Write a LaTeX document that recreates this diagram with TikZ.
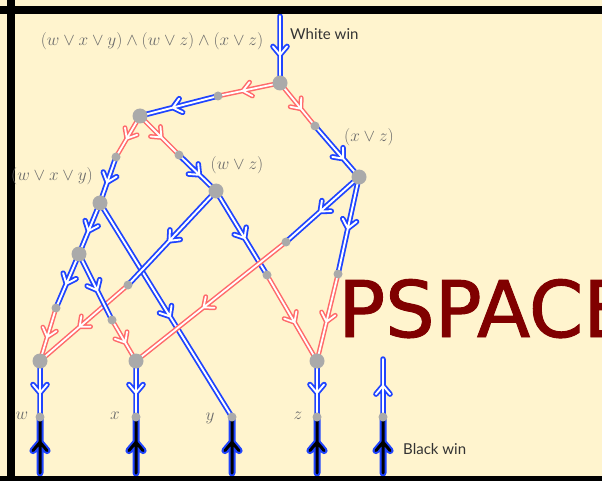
\documentclass[tikz,border=0pt]{standalone}
\usepackage{fontspec}
\usetikzlibrary{calc}
\newfontfamily\labelfont{Lato}
\newfontfamily\bigfont[FakeBold=1.2]{DejaVu Sans}
\definecolor{bgc}{HTML}{FFF4CE}
\definecolor{eblue}{HTML}{1F44FF}
\definecolor{ered}{HTML}{FF6A6A}
\definecolor{ngray}{HTML}{AAAAAA}
\definecolor{tgray}{HTML}{6A6A6A}
\definecolor{pred}{HTML}{800000}
\pgfdeclarelayer{bg}
\pgfdeclarelayer{edges}
\pgfsetlayers{bg,edges,main}
\tikzset{
  bluee/.style={draw=eblue, double=white, line width=1.8pt, double distance=1.9pt, line cap=round, line join=round},
  rede/.style={draw=ered, double=white, line width=1.5pt, double distance=1.8pt, line cap=round, line join=round},
  blacke/.style={draw=eblue, double=black, line width=2pt, double distance=3pt, line cap=round, line join=round},
  bignode/.style={circle, fill=ngray, inner sep=0pt, minimum size=15pt},
  smallnode/.style={circle, fill=ngray, inner sep=0pt, minimum size=9pt},
  formula/.style={text=tgray, font=\fontsize{16.4}{18}\selectfont, inner sep=0pt},
  leaflabel/.style={text=tgray, font=\fontsize{17}{19}\selectfont, inner sep=0pt},
  wintext/.style={text=black!80, font=\labelfont\fontsize{15}{17}\selectfont, inner sep=0pt, anchor=west},
  frame/.style={draw=black, line width=8pt}
}
\newcommand\edg[4][0.56]{%
  \path ($(#3.center)!#1!(#4.center)$) coordinate (tip);
  \draw[#2] (#3.center) -- (#4.center)
    ($(tip)!11pt!40:(#3.center)$) -- (tip) -- ($(tip)!11pt!-40:(#3.center)$);
}
\begin{document}
\begin{tikzpicture}[x=1pt, y=-1pt]
\useasboundingbox (0,0) rectangle (602,481);
\begin{pgfonlayer}{bg}
  \fill[bgc] (0,0) rectangle (602,481);
\end{pgfonlayer}
% nodes
\node[bignode] (R) at (280,83) {};
\node[smallnode] (s1) at (218,96) {};
\node[bignode] (A) at (140,116) {};
\node[smallnode] (s2) at (315,126) {};
\node[smallnode] (s3) at (116,157) {};
\node[smallnode] (s4) at (179,155) {};
\node[bignode] (B) at (100,203) {};
\node[bignode] (C) at (216,191) {};
\node[bignode] (D) at (359,177) {};
\node[bignode] (E) at (79,254) {};
\node[smallnode] (s5) at (128,285) {};
\node[smallnode] (s6) at (286,242) {};
\node[smallnode] (s7) at (56,308) {};
\node[smallnode] (s8) at (112,320) {};
\node[smallnode] (s9) at (267,275) {};
\node[smallnode] (s10) at (338,274) {};
\node[bignode] (F) at (40,361) {};
\node[bignode] (G) at (136,361) {};
\node[bignode] (H) at (317,361) {};
\node[smallnode] (lw) at (40,417) {};
\node[smallnode] (lx) at (136,417) {};
\node[smallnode] (ly) at (232,417) {};
\node[smallnode] (lz) at (317,417) {};
\node[smallnode] (lk) at (383,417) {};
\coordinate (wstart) at (280,16);
\coordinate (bw) at (40,473);
\coordinate (bx) at (136,473);
\coordinate (by) at (232,473);
\coordinate (bz) at (317,473);
\coordinate (bk) at (383,473);
\coordinate (kt) at (383,359);
% edges
\begin{pgfonlayer}{edges}
  \edg[0.58]{bluee}{wstart}{R}
  \edg[0.6]{rede}{R}{s1}
  \edg[0.58]{bluee}{s1}{A}
  \edg[0.6]{rede}{R}{s2}
  \edg[0.64]{bluee}{s2}{D}
  \edg[0.55]{rede}{A}{s3}
  \edg[0.55]{bluee}{s3}{B}
  \edg[0.55]{rede}{A}{s4}
  \edg[0.55]{bluee}{s4}{C}
  \edg[0.55]{bluee}{B}{E}
  \edg[0.53]{bluee}{B}{ly}
  \edg[0.53]{bluee}{C}{s5}
  \edg[0.55]{rede}{s5}{F}
  \edg[0.56]{bluee}{C}{s9}
  \edg[0.55]{rede}{s9}{H}
  \edg[0.53]{bluee}{D}{s6}
  \edg[0.55]{rede}{s6}{G}
  \edg[0.53]{bluee}{D}{s10}
  \edg[0.55]{rede}{s10}{H}
  \edg[0.55]{bluee}{E}{s7}
  \edg[0.55]{rede}{s7}{F}
  \edg[0.55]{bluee}{E}{s8}
  \edg[0.55]{rede}{s8}{G}
  \edg[0.57]{bluee}{F}{lw}
  \edg[0.57]{bluee}{G}{lx}
  \edg[0.57]{bluee}{H}{lz}
  \edg[0.55]{blacke}{bw}{lw}
  \edg[0.55]{blacke}{bx}{lx}
  \edg[0.55]{blacke}{by}{ly}
  \edg[0.55]{blacke}{bz}{lz}
  \edg[0.55]{blacke}{bk}{lk}
  \edg[0.54]{bluee}{lk}{kt}
\end{pgfonlayer}
% frame
\fill[bgc] (0,0) rectangle (602,6);
\draw[frame] (0,10) -- (602,10);
\draw[frame] (11,0) -- (11,481);
\draw[frame] (0,480) -- (602,480);
% texts
\node[formula] (f0) at (152,41) {$(w\vee x\vee y)\wedge(w\vee z)\wedge(x\vee z)$};
\node[formula] (f1) at (369,137) {$(x\vee z)$};
\node[formula] (f2) at (52,176) {$(w\vee x\vee y)$};
\node[formula] (f3) at (237,165) {$(w\vee z)$};
\node[leaflabel] (tw) at (22,416) {$w$};
\node[leaflabel] (tx) at (115,416) {$x$};
\node[leaflabel] (ty) at (210,418) {$y$};
\node[leaflabel] (tz) at (298,416) {$z$};
\node[wintext] (ww) at (290,34) {White win};
\node[wintext] (bwin) at (403,449) {Black win};
\begin{scope}
  \clip (0,0) rectangle (602,481);
  \node[text=pred, font=\bigfont\fontsize{78}{80}\selectfont, inner sep=0pt, anchor=base west] (ps) at (338,337) {PSPACE};
\end{scope}
\end{tikzpicture}
\end{document}
